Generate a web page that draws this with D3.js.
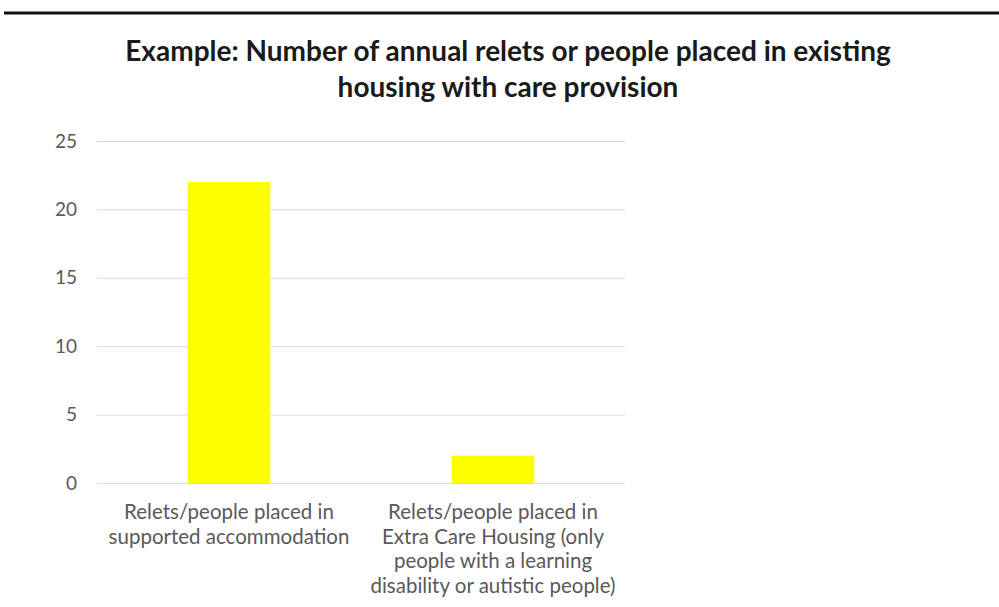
<!DOCTYPE html>
<html>
<head>
<meta charset="utf-8">
<script src="https://cdn.jsdelivr.net/npm/d3@7"></script>
<style>
  body { margin: 0; background: #fff; }
  svg { display: block; }
</style>
</head>
<body>
<svg id="chart" width="999" height="607"></svg>
<script>
const titleLines = ["Example: Number of annual relets or people placed in existing", "housing with care provision"];
const categories = [
  ["Relets/people placed in", "supported accommodation"],
  ["Relets/people placed in", "Extra Care Housing (only", "people with a learning", "disability or autistic people)"]
];
const values = [22, 2];
const yTicks = [0, 5, 10, 15, 20, 25];

const svg = d3.select("#chart");
const W = 999, H = 607;
const margin = { left: 97, right: 374, top: 141, bottom: 124 };
const plotW = W - margin.left - margin.right;
const plotH = H - margin.top - margin.bottom;

svg.append("rect").attr("width", W).attr("height", H).attr("fill", "#fff");

// top border line
svg.append("line").attr("x1", 4).attr("x2", W).attr("y1", 13).attr("y2", 13)
  .attr("stroke", "#111").attr("stroke-width", 3);

// title
svg.append("text")
  .attr("x", 508).attr("y", 61)
  .attr("text-anchor", "middle")
  .attr("font-family", "Lato, 'Open Sans', sans-serif")
  .attr("font-weight", "bold")
  .attr("font-size", 28)
  .attr("fill", "#1a1a1a")
  .selectAll("tspan").data(titleLines).join("tspan")
  .attr("x", 508).attr("dy", (d, i) => i === 0 ? 0 : 36)
  .text(d => d);

const g = svg.append("g").attr("transform", `translate(${margin.left},${margin.top})`);

const x = d3.scaleBand().domain(d3.range(categories.length)).range([0, plotW])
  .paddingInner(0.687).paddingOuter(0.687 / 2);
const y = d3.scaleLinear().domain([0, 25]).range([plotH, 0]);

// gridlines
const yAxis = d3.axisLeft(y).tickValues(yTicks).tickSize(-plotW).tickPadding(20);
const ya = g.append("g").call(yAxis);
ya.select(".domain").remove();
ya.selectAll(".tick line").attr("stroke", "#d9d9d9").attr("stroke-width", 1);
ya.selectAll(".tick text")
  .attr("font-family", "Lato, 'Open Sans', sans-serif")
  .attr("font-size", 19)
  .attr("fill", "#595959");

// bars
g.selectAll("rect.bar").data(values).join("rect")
  .attr("class", "bar")
  .attr("x", (d, i) => x(i))
  .attr("width", x.bandwidth())
  .attr("y", d => y(d))
  .attr("height", d => y(0) - y(d))
  .attr("fill", "#ffff00");

// x labels
const xl = g.append("g").selectAll("text").data(categories).join("text")
  .attr("text-anchor", "middle")
  .attr("font-family", "Lato, 'Open Sans', sans-serif")
  .attr("font-size", 20.5)
  .attr("fill", "#595959")
  .attr("transform", (d, i) => `translate(${x(i) + x.bandwidth() / 2},${plotH + 36})`);
xl.selectAll("tspan").data(d => d).join("tspan")
  .attr("x", 0).attr("dy", (d, i) => i === 0 ? 0 : 24.5)
  .text(d => d);
</script>
</body>
</html>
